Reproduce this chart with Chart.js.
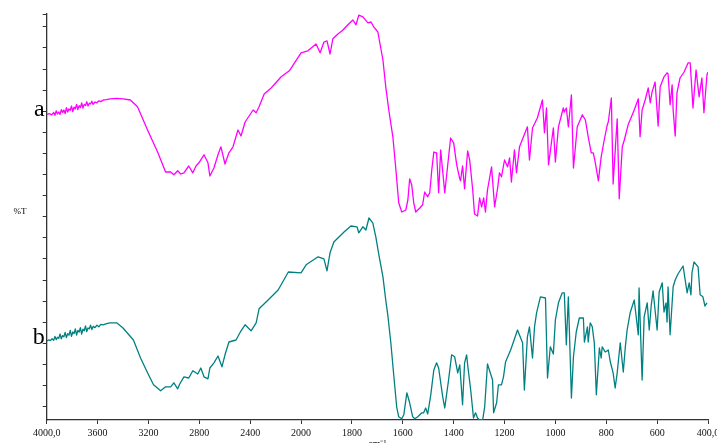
<!DOCTYPE html>
<html>
<head>
<meta charset="utf-8">
<title>IR spectra a / b</title>
<script src="https://cdn.jsdelivr.net/npm/chart.js@4.4.1/dist/chart.umd.min.js"></script>
<style>
  html, body { margin: 0; padding: 0; background: #fff; overflow: hidden; }
  #wrap { width: 717px; height: 443px; overflow: hidden; position: relative; }
  canvas { display: block; }
</style>
</head>
<body>
<div id="wrap"><canvas id="ir" width="717" height="450"></canvas></div>
<script>
// Wavenumber axis ticks (cm-1) and their printed labels
const xTickWaves = [4000, 3600, 3200, 2800, 2400, 2000, 1800, 1600, 1400, 1200, 1000, 800, 600, 400];
const xTickLabels = ['4000,0', '3600', '3200', '2800', '2400', '2000', '1800', '1600', '1400', '1200', '1000', '800', '600', '400,0'];

// Spectrum a (%T, offset trace)
const waveA = [4000,3980,3960,3945,3935,3925,3915,3905,3895,3885,3875,3865,3855,3845,3835,3825,3815,3805,3795,3785,3775,3765,3755,3745,3735,3725,3715,3705,3695,3685,3675,3665,3655,3645,3635,3620,3605,3590,3575,3555,3530,3500,3450,3400,3342,3286,3207,3128,3065,3025,3000,2970,2946,2921,2883,2851,2826,2803,2763,2732,2717,2685,2653,2630,2598,2567,2535,2496,2472,2440,2377,2353,2330,2290,2235,2156,2092,2000,1973,1941,1925,1910,1898,1886,1875,1855,1835,1816,1796,1784,1773,1757,1737,1725,1714,1698,1678,1667,1655,1639,1627,1616,1604,1588,1580,1573,1565,1557,1549,1533,1522,1514,1502,1494,1486,1478,1467,1459,1451,1435,1424,1412,1400,1388,1376,1373,1365,1357,1345,1337,1325,1318,1306,1298,1290,1282,1275,1267,1251,1239,1227,1220,1212,1200,1188,1180,1173,1161,1153,1141,1110,1102,1090,1071,1051,1043,1035,1027,1008,1000,988,969,965,957,949,937,929,914,894,882,871,859,851,843,831,820,808,796,792,780,773,757,749,737,729,714,690,674,667,659,647,635,627,620,608,596,588,573,561,557,549,541,537,529,522,510,494,478,470,459,447,435,424,416,404,400];
const transA = [76.4,76.6,76.3,76.9,76.2,77.3,76.5,77.0,76.4,77.6,76.9,77.5,76.6,78.1,77.0,77.8,77.4,78.5,77.1,78.2,77.8,78.9,77.6,78.6,78.1,79.3,78.0,78.9,78.6,79.6,78.5,79.2,79.0,79.7,78.9,79.5,79.3,79.8,79.6,80.0,80.1,80.3,80.4,80.3,80.0,78.3,72.5,67.0,62.0,62.0,61.3,62.3,61.5,61.8,63.5,61.8,63.5,64.3,66.3,64.3,61.0,63.0,66.3,68.3,64.0,66.8,68.3,72.5,71.0,74.5,77.5,76.8,78.3,81.5,83.0,85.8,87.3,91.8,92.3,94.0,91.8,94.5,94.8,91.5,95.3,96.5,97.5,98.8,100.0,98.8,101.2,100.8,99.3,99.5,98.3,97.0,90.0,83.3,77.5,70.8,62.5,54.3,52.0,52.5,55.0,60.3,58.8,54.3,52.0,53.0,53.8,57.0,55.8,56.8,62.5,67.0,66.8,56.8,67.5,56.8,63.3,70.5,69.3,63.8,60.3,59.8,63.5,57.8,67.3,65.0,57.5,51.5,51.0,55.5,53.3,55.5,52.0,57.5,63.3,53.3,58.0,61.8,60.8,65.0,63.3,65.5,59.5,67.5,61.8,68.3,73.3,65.0,73.0,75.5,80.0,71.8,78.0,63.8,73.0,64.5,73.3,78.0,77.0,78.0,73.3,81.3,63.0,73.3,76.3,75.0,70.8,66.8,66.8,64.3,59.8,65.8,70.0,73.8,74.5,80.5,59.0,75.3,55.3,68.3,70.0,73.8,77.5,80.3,70.8,77.5,80.0,83.0,79.3,82.0,84.5,73.5,83.3,85.8,86.8,86.5,78.8,83.8,77.5,71.0,81.8,85.5,87.0,89.3,89.3,78.0,87.5,80.8,85.5,76.8,86.3,87.0];

// Spectrum b (%T, lower trace)
const waveB = [4000,3985,3970,3958,3945,3935,3925,3915,3905,3895,3885,3875,3865,3855,3845,3835,3825,3815,3805,3795,3785,3775,3765,3755,3745,3735,3725,3715,3705,3695,3685,3675,3665,3655,3645,3635,3620,3605,3590,3575,3555,3530,3500,3450,3400,3318,3262,3207,3160,3104,3065,3025,3000,2970,2954,2921,2883,2851,2812,2788,2763,2732,2717,2685,2653,2622,2598,2567,2511,2472,2440,2393,2353,2330,2259,2180,2100,2000,1980,1933,1910,1898,1886,1871,1831,1804,1780,1773,1757,1745,1733,1718,1706,1694,1678,1667,1659,1647,1635,1624,1616,1604,1596,1584,1573,1561,1553,1541,1525,1518,1510,1502,1490,1478,1467,1459,1443,1435,1420,1408,1396,1384,1376,1365,1357,1349,1345,1333,1322,1314,1306,1298,1286,1278,1267,1247,1243,1231,1224,1212,1204,1196,1176,1165,1149,1129,1122,1110,1102,1090,1082,1074,1059,1039,1031,1020,1008,1000,988,973,965,957,949,937,929,918,906,890,886,874,871,863,855,847,839,827,820,816,804,792,784,773,765,757,745,733,725,718,706,690,674,671,659,651,639,631,623,616,600,592,580,573,565,561,557,549,537,529,518,498,482,474,467,463,455,439,431,420,412,404,400];
const transB = [19.8,20.0,19.9,20.3,19.9,20.9,20.1,20.7,20.4,21.5,20.3,21.1,20.8,21.9,20.6,21.6,21.2,22.4,20.9,22.0,21.6,22.8,21.2,22.4,22.0,23.1,21.5,22.7,22.3,23.5,22.1,23.0,22.8,23.7,22.6,23.4,23.1,23.7,23.3,23.9,23.8,24.1,24.3,24.3,23.0,20.0,15.5,11.8,8.8,7.3,8.3,8.3,9.3,7.8,9.0,10.8,10.5,12.3,11.5,13.0,10.8,10.3,13.0,14.3,16.0,13.3,16.3,19.5,20.0,22.3,23.8,22.3,24.3,27.8,30.0,32.5,37.0,36.8,38.8,40.8,40.3,37.3,41.8,44.5,47.0,48.5,48.3,46.8,48.3,47.5,50.5,49.3,45.8,41.3,35.8,30.0,26.3,19.3,10.8,3.3,0.8,0.3,1.3,6.8,4.3,0.8,0.3,0.8,1.8,1.8,3.0,1.5,6.3,12.5,14.3,13.0,5.8,3.0,10.0,16.3,15.8,11.8,13.8,3.8,14.3,16.3,13.8,7.5,0.5,1.8,0.5,0,0,3.3,14.0,10.0,1.8,4.3,8.8,8.8,10.8,14.5,17.5,19.5,22.5,19.3,7.5,20.8,23.3,15.5,23.3,26.8,30.8,30.5,10.5,18.3,16.5,25.0,29.3,31.8,31.8,18.8,30.8,5.5,15.8,22.0,25.5,25.5,19.5,23.3,19.5,24.3,23.3,19.3,6.3,18.0,15.5,18.3,17.0,17.5,14.5,11.8,8.0,11.8,19.3,12.0,18.3,22.5,26.8,30.0,21.3,33.0,10.0,25.8,29.3,22.5,28.8,32.3,22.5,32.0,34.3,27.0,29.3,24.5,33.3,21.3,33.3,35.0,36.5,38.5,31.8,34.3,31.3,36.8,39.5,38.3,31.3,30.8,28.5,29.3];

// The wavenumber axis is compressed 2:1 above 2000 cm-1 (standard IR layout)
function toAxis(wn) {
  return wn >= 2000 ? (4000 - wn) / 2 : 1000 + (2000 - wn);
}
function toPoints(waves, vals) {
  return waves.map((w, i) => ({ x: toAxis(w), y: vals[i] }));
}

const SERIF = "'Liberation Serif', 'Times New Roman', serif";
Chart.defaults.font.family = SERIF;
Chart.defaults.color = '#111';

// Trace letters and the %T caption beside the ordinate
const traceLabels = {
  id: 'traceLabels',
  afterDraw(chart) {
    const { ctx, chartArea, scales } = chart;
    const y = scales.y;
    ctx.save();
    ctx.fillStyle = '#000';
    ctx.font = '24px ' + SERIF;
    ctx.textAlign = 'right';
    ctx.textBaseline = 'alphabetic';
    ctx.fillText('a', chartArea.left - 2, y.getPixelForValue(transA[0]) + 2);
    ctx.fillText('b', chartArea.left - 2, y.getPixelForValue(transB[0]) + 3);
    ctx.font = '9px ' + SERIF;
    ctx.textAlign = 'center';
    ctx.textBaseline = 'middle';
    ctx.fillText('%T', 20, (chartArea.top + chartArea.bottom) / 2 - 5);
    ctx.restore();
  }
};

new Chart(document.getElementById('ir'), {
  type: 'line',
  data: {
    datasets: [
      { label: 'a', data: toPoints(waveA, transA), borderColor: '#ff00ff', borderWidth: 1.3 },
      { label: 'b', data: toPoints(waveB, transB), borderColor: '#008080', borderWidth: 1.3 }
    ]
  },
  options: {
    responsive: false,
    animation: false,
    devicePixelRatio: 1,
    layout: { padding: { left: 0, right: 9, top: 14, bottom: 0 } },
    elements: { point: { radius: 0 }, line: { tension: 0, borderJoinStyle: 'round' } },
    plugins: { legend: { display: false }, tooltip: { enabled: false } },
    scales: {
      x: {
        type: 'linear',
        min: 0,
        max: 2600,
        afterBuildTicks(scale) {
          scale.ticks = xTickWaves.map(w => ({ value: toAxis(w) }));
        },
        afterFit(scale) {
          scale.height = 30;
          scale.paddingLeft = 0;
          scale.paddingRight = 0;
        },
        ticks: {
          autoSkip: false,
          maxRotation: 0,
          padding: 3,
          color: '#111',
          font: { size: 10 },
          callback: (v, i) => xTickLabels[i]
        },
        grid: { display: true, drawOnChartArea: false, drawTicks: true, tickLength: 4, color: '#333', lineWidth: 1 },
        border: { display: true, color: '#333', width: 1.3 },
        title: { display: true, text: 'cm\u207B\u00B9', font: { size: 10 }, color: '#111', padding: { top: 0, bottom: 0 } }
      },
      y: {
        type: 'linear',
        min: 0,
        max: 101.5,
        afterBuildTicks(scale) {
          const t = [];
          for (let k = 0; k < 19; k++) t.push({ value: 3.33 + 5.275 * k });
          t.push({ value: 101.5 });
          scale.ticks = t;
        },
        afterFit(scale) {
          scale.width = 46.7;
          scale.paddingTop = 0;
          scale.paddingBottom = 0;
        },
        ticks: { display: false },
        grid: { display: true, drawOnChartArea: false, drawTicks: true, tickLength: 4, color: '#333', lineWidth: 1 },
        border: { display: true, color: '#333', width: 1.3 }
      }
    }
  },
  plugins: [traceLabels]
});
</script>
</body>
</html>
